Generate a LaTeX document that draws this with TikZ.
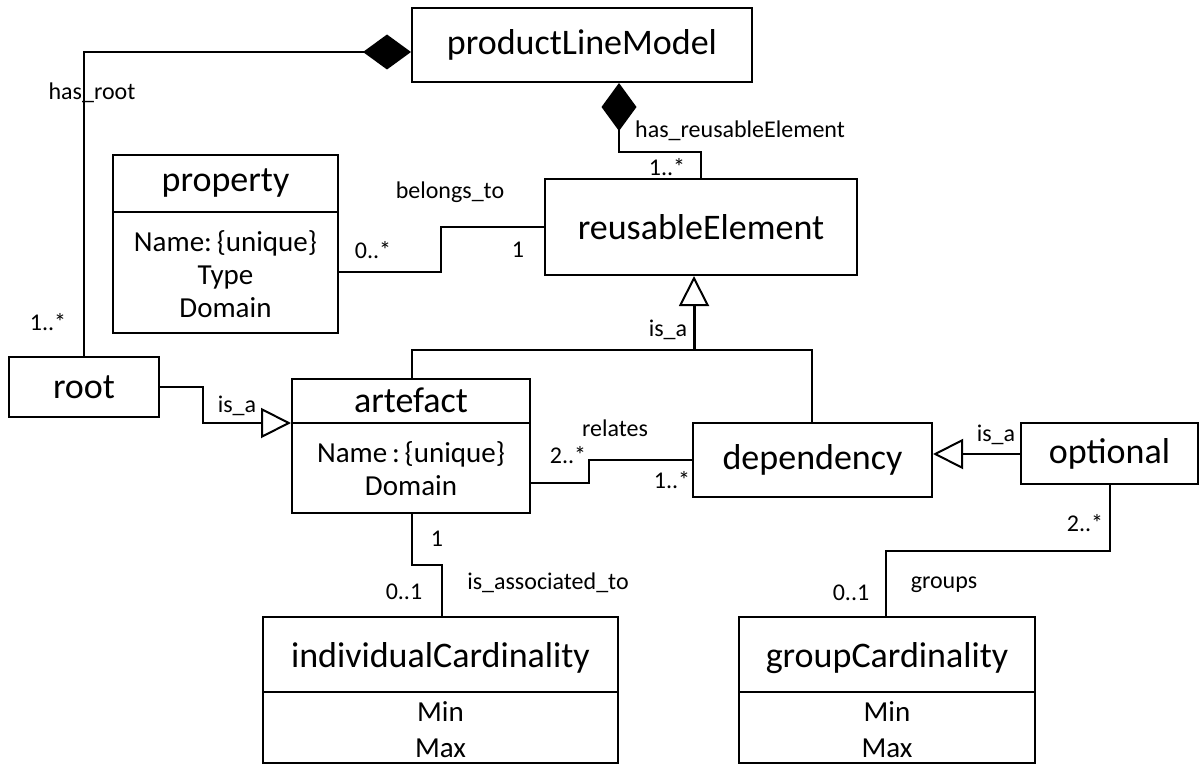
\documentclass[tikz,border=0pt]{standalone}
\usepackage{fontspec}
\setmainfont{Carlito}
\usetikzlibrary{arrows.meta}
\begin{document}
\begin{tikzpicture}[x=1pt,y=-1pt,
  box/.style={draw,line width=2pt,inner sep=0pt,rectangle},
  ttl/.style={font=\fontsize{36}{40}\selectfont,inner sep=0pt},
  attr/.style={font=\fontsize{29}{33}\selectfont,inner sep=0pt,align=center},
  lbl/.style={font=\fontsize{24}{28}\selectfont,inner sep=0pt},
  conn/.style={line width=2pt},
  compo/.style={conn,{Diamond[length=48pt,width=35pt]}-},
  gen/.style={conn,-{Triangle[open,length=30pt,width=30pt,line width=2pt]}}
]
\useasboundingbox (0,0) rectangle (1200,765);

% simple boxes
\node[box,ttl,minimum width=340pt,minimum height=74pt] (plm) at (582,45) {productLineModel};
\node[box,ttl,minimum width=312pt,minimum height=96pt] (re) at (701,227) {reusableElement};
\node[box,ttl,minimum width=150pt,minimum height=60pt] (root) at (84,387) {root};
\node[box,ttl,minimum width=239pt,minimum height=74pt] (dep) at (812.5,460) {dependency};
\node[box,ttl,minimum width=177pt,minimum height=61pt] (opt) at (1109.5,453.5) {optional};

% property
\node[box,minimum width=225pt,minimum height=178pt] (prop) at (225.5,244) {};
\draw[conn] (prop.west |- 0,212) -- (prop.east |- 0,212);
\node[ttl] (propt) at (225.5,183) {property};
\node[attr] (propa) at (225.5,274) {Name:\,\{unique\}\\Type\\Domain};

% artefact
\node[box,minimum width=238pt,minimum height=134pt] (art) at (411,446) {};
\draw[conn] (art.west |- 0,423) -- (art.east |- 0,423);
\node[ttl] (artt) at (411,400) {artefact};
\node[attr] (arta) at (411,469) {Name\,:\,\{unique\}\\Domain};

% individualCardinality
\node[box,minimum width=355pt,minimum height=146pt] (ic) at (440.5,690) {};
\draw[conn] (ic.west |- 0,692) -- (ic.east |- 0,692);
\node[ttl] (ict) at (440.5,658) {individualCardinality};
\node[attr,font=\fontsize{29}{36}\selectfont] (ica) at (440.5,730) {Min\\Max};

% groupCardinality
\node[box,minimum width=296pt,minimum height=146pt] (gc) at (887,690) {};
\draw[conn] (gc.west |- 0,692) -- (gc.east |- 0,692);
\node[ttl] (gct) at (887,658) {groupCardinality};
\node[attr,font=\fontsize{29}{36}\selectfont] (gca) at (887,730) {Min\\Max};

% connectors
\draw[compo] (plm.west |- 0,52) -| (root.north);
\draw[compo] (plm.south -| 619,0) |- (701,152) -- (re.north -| 701,0);
\draw[conn] (prop.east |- 0,272) -| (441,227) -- (re.west |- 0,227);
\draw[gen] (root.east) -| (203,423) -- (art.west |- 0,423);
\draw[conn] (art.north -| 412,0) |- (812,350) -- (dep.north -| 812,0);
\coordinate (genj) at (694,350);
\draw[gen,line width=3pt] (genj) -- (re.south -| genj);
\draw[conn] (art.east |- 0,483) -| (589,460) -- (dep.west |- 0,460);
\draw[gen] (opt.west |- 0,454) -- (dep.east |- 0,454);
\draw[conn] (opt.south) |- (886,551) -- (gc.north -| 886,0);
\draw[conn] (art.south -| 412,0) |- (442,565) -- (ic.north -| 442,0);

% labels
\node[lbl] (l1) at (92,93) {has\_root};
\node[lbl] (l2) at (48,322) {1..*};
\node[lbl,anchor=west] (l3) at (635,131) {has\_reusableElement};
\node[lbl] (l4) at (667,167) {1..*};
\node[lbl] (l5) at (450,192) {belongs\_to};
\node[lbl] (l6) at (373,250) {0..*};
\node[lbl] (l7) at (518,250) {1};
\node[lbl] (l8) at (237,406) {is\_a};
\node[lbl] (l9) at (668,330) {is\_a};
\node[lbl] (l10) at (615,428) {relates};
\node[lbl] (l11) at (568,455) {2..*};
\node[lbl] (l12) at (672,480) {1..*};
\node[lbl] (l13) at (996,435) {is\_a};
\node[lbl] (l14) at (1085,523) {2..*};
\node[lbl] (l15) at (851,593) {0..1};
\node[lbl] (l16) at (944,585) {groups};
\node[lbl] (l17) at (437,539) {1};
\node[lbl] (l18) at (404,592) {0..1};
\node[lbl] (l19) at (548,583) {is\_associated\_to};
\end{tikzpicture}
\end{document}
